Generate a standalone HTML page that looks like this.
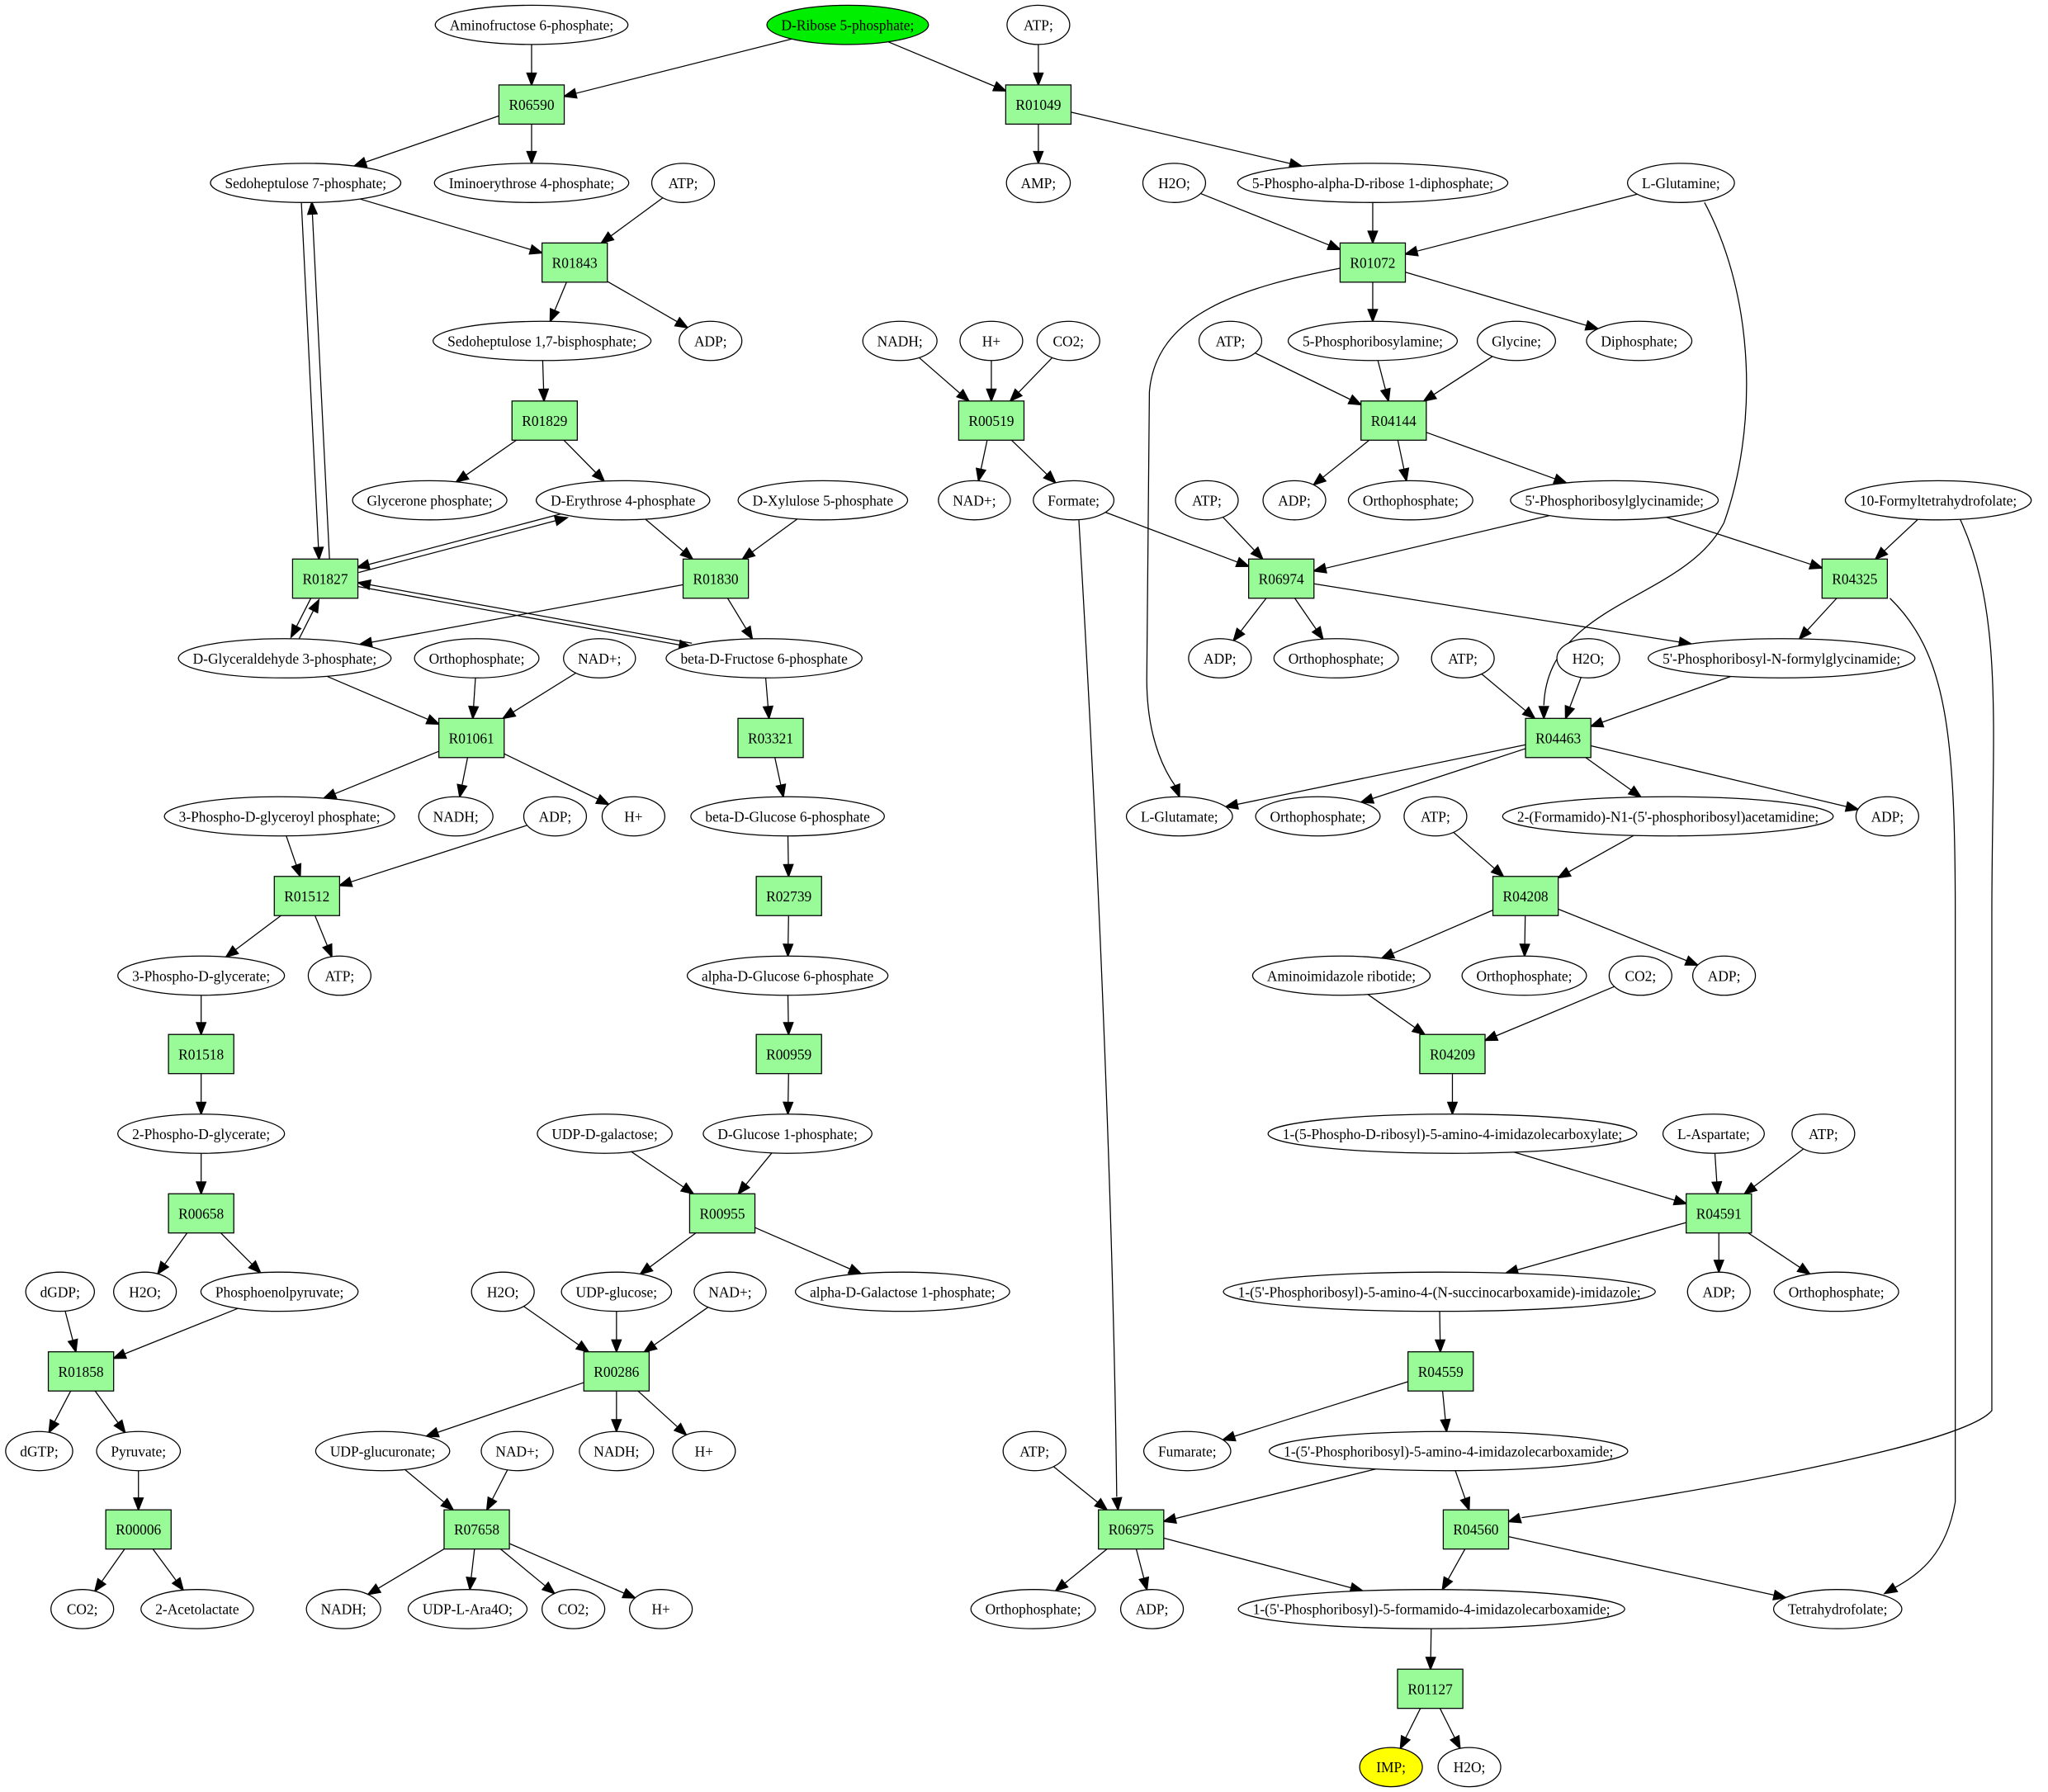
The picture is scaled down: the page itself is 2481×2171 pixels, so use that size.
<!DOCTYPE html>
<html><head><meta charset="utf-8"><style>
html,body{margin:0;padding:0;background:#fff;}
svg{display:block;}
text{font-family:"Liberation Serif",serif;font-size:11px;}
</style></head><body>
<svg id="s" xmlns="http://www.w3.org/2000/svg" width="2481" height="2171" viewBox="0 0 1568 1372"></svg>
<script>
var N={};
function n(id,label,x,y,t,fill){N[id]={label:label,x:x,y:y,t:t||'e',fill:fill||'#fff'};}
n('amf','Aminofructose 6-phosphate;',407,19);n('r5p','D-Ribose 5-phosphate;',649,19,'e','#00ee00');n('atp1','ATP;',795,19);
n('R06590','R06590',407,80,'b');n('R01049','R01049',795,80,'b');
n('s7p','Sedoheptulose 7-phosphate;',234,140);n('ime','Iminoerythrose 4-phosphate;',407,140);n('atp2','ATP;',523,140);n('amp','AMP;',795,140);n('h2o1','H2O;',899,140);n('prpp','5-Phospho-alpha-D-ribose 1-diphosphate;',1051,140);n('gln','L-Glutamine;',1287,140);
n('R01843','R01843',440,201,'b');n('R01072','R01072',1051,201,'b');
n('s17','Sedoheptulose 1,7-bisphosphate;',415,261);n('adp1','ADP;',544,261);n('nadh1','NADH;',689,261);n('hp1','H+',759,261);n('co21','CO2;',818,261);n('atp3','ATP;',942,261);n('pra','5-Phosphoribosylamine;',1051,261);n('gly','Glycine;',1161,261);n('ppi','Diphosphate;',1255,261);
n('R01829','R01829',417,322,'b');n('R00519','R00519',759,322,'b');n('R04144','R04144',1067,322,'b');
n('dhap','Glycerone phosphate;',329,383);n('e4p','D-Erythrose 4-phosphate',477,383);n('xu5p','D-Xylulose 5-phosphate',630,383);n('nadp1','NAD+;',746,383);n('form','Formate;',822,383);n('atp4','ATP;',924,383);n('adp2','ADP;',991,383);n('pi1','Orthophosphate;',1080,383);n('gar','5\'-Phosphoribosylglycinamide;',1236,383);n('fthf','10-Formyltetrahydrofolate;',1484,383);
n('R01827','R01827',249,443,'b');n('R01830','R01830',548,443,'b');n('R06974','R06974',981,443,'b');n('R04325','R04325',1420,443,'b');
n('g3p','D-Glyceraldehyde 3-phosphate;',218,504);n('pi2','Orthophosphate;',365,504);n('nadp2','NAD+;',459,504);n('f6p','beta-D-Fructose 6-phosphate',585,504);n('adp3','ADP;',934,504);n('pi3','Orthophosphate;',1023,504);n('atp5','ATP;',1120,504);n('h2o2','H2O;',1216,504);n('fgar','5\'-Phosphoribosyl-N-formylglycinamide;',1364,504);
n('R01061','R01061',361,565,'b');n('R03321','R03321',590,565,'b');n('R04463','R04463',1193,565,'b');
n('bpg','3-Phospho-D-glyceroyl phosphate;',214,625);n('nadh2','NADH;',349,625);n('adp4','ADP;',425,625);n('hp2','H+',485,625);n('bg6p','beta-D-Glucose 6-phosphate',603,625);n('glu','L-Glutamate;',903,625);n('pi4','Orthophosphate;',1009,625);n('atp6','ATP;',1099,625);n('fgam','2-(Formamido)-N1-(5\'-phosphoribosyl)acetamidine;',1277,625);n('adp5','ADP;',1445,625);
n('R01512','R01512',235,686,'b');n('R02739','R02739',604,686,'b');n('R04208','R04208',1168,686,'b');
n('3pg','3-Phospho-D-glycerate;',154,747);n('atp7','ATP;',260,747);n('ag6p','alpha-D-Glucose 6-phosphate',603,747);n('air','Aminoimidazole ribotide;',1027,747);n('pi5','Orthophosphate;',1167,747);n('co22','CO2;',1256,747);n('adp6','ADP;',1320,747);
n('R01518','R01518',154,807,'b');n('R00959','R00959',604,807,'b');n('R04209','R04209',1112,807,'b');
n('2pg','2-Phospho-D-glycerate;',154,868);n('udpgal','UDP-D-galactose;',463,868);n('g1p','D-Glucose 1-phosphate;',603,868);n('cair','1-(5-Phospho-D-ribosyl)-5-amino-4-imidazolecarboxylate;',1112,868);n('asp','L-Aspartate;',1312,868);n('atp8','ATP;',1396,868);
n('R00658','R00658',154,929,'b');n('R00955','R00955',553,929,'b');n('R04591','R04591',1316,929,'b');
n('dgdp','dGDP;',46,989);n('h2o3','H2O;',111,989);n('pep','Phosphoenolpyruvate;',214,989);n('h2o4','H2O;',385,989);n('udpglc','UDP-glucose;',472,989);n('nadp3','NAD+;',559,989);n('gal1p','alpha-D-Galactose 1-phosphate;',691,989);n('saicar','1-(5\'-Phosphoribosyl)-5-amino-4-(N-succinocarboxamide)-imidazole;',1102,989);n('adp7','ADP;',1316,989);n('pi6','Orthophosphate;',1406,989);
n('R01858','R01858',62,1050,'b');n('R00286','R00286',472,1050,'b');n('R04559','R04559',1103,1050,'b');
n('dgtp','dGTP;',30,1111);n('pyr','Pyruvate;',106,1111);n('udpgla','UDP-glucuronate;',293,1111);n('nadp4','NAD+;',396,1111);n('nadh3','NADH;',472,1111);n('hp3','H+',539,1111);n('atp9','ATP;',792,1111);n('fum','Fumarate;',909,1111);n('aicar','1-(5\'-Phosphoribosyl)-5-amino-4-imidazolecarboxamide;',1109,1111);
n('R00006','R00006',106,1171,'b');n('R07658','R07658',365,1171,'b');n('R06975','R06975',866,1171,'b');n('R04560','R04560',1130,1171,'b');
n('co23','CO2;',63,1232);n('alac','2-Acetolactate',151,1232);n('nadh4','NADH;',263,1232);n('ara','UDP-L-Ara4O;',358,1232);n('co24','CO2;',439,1232);n('hp4','H+',506,1232);n('pi7','Orthophosphate;',791,1232);n('adp8','ADP;',882,1232);n('faicar','1-(5\'-Phosphoribosyl)-5-formamido-4-imidazolecarboxamide;',1096,1232);n('thf','Tetrahydrofolate;',1407,1232);
n('R01127','R01127',1095,1293,'b');
n('imp','IMP;',1065,1353,'e','#ffff00');n('h2o5','H2O;',1125,1353);

var E=[['amf','R06590'],['r5p','R06590'],['r5p','R01049'],['atp1','R01049'],['R06590','s7p'],['R06590','ime'],['R01049','amp'],['R01049','prpp'],
['s7p','R01843'],['atp2','R01843'],['R01843','s17'],['R01843','adp1'],['s17','R01829'],['R01829','dhap'],['R01829','e4p'],
['s7p','R01827',4],['R01827','s7p',4],['e4p','R01827',2],['R01827','e4p',2],['R01827','g3p',3],['g3p','R01827',3],['f6p','R01827',1.5],['R01827','f6p',1.5],
['e4p','R01830'],['xu5p','R01830'],['R01830','g3p'],['R01830','f6p'],
['g3p','R01061'],['pi2','R01061'],['nadp2','R01061'],['R01061','bpg'],['R01061','nadh2'],['R01061','hp2'],
['bpg','R01512'],['adp4','R01512'],['R01512','3pg'],['R01512','atp7'],['3pg','R01518'],['R01518','2pg'],['2pg','R00658'],['R00658','h2o3'],['R00658','pep'],
['dgdp','R01858'],['pep','R01858'],['R01858','dgtp'],['R01858','pyr'],['pyr','R00006'],['R00006','co23'],['R00006','alac'],
['f6p','R03321'],['R03321','bg6p'],['bg6p','R02739'],['R02739','ag6p'],['ag6p','R00959'],['R00959','g1p'],['g1p','R00955'],['udpgal','R00955'],['R00955','udpglc'],['R00955','gal1p'],
['h2o4','R00286'],['udpglc','R00286'],['nadp3','R00286'],['R00286','udpgla'],['R00286','nadh3'],['R00286','hp3'],['udpgla','R07658'],['nadp4','R07658'],
['R07658','nadh4'],['R07658','ara'],['R07658','co24'],['R07658','hp4'],
['nadh1','R00519'],['hp1','R00519'],['co21','R00519'],['R00519','nadp1'],['R00519','form'],['form','R06974'],
['prpp','R01072'],['h2o1','R01072'],['gln','R01072'],['R01072','pra'],['R01072','ppi'],
['atp3','R04144'],['pra','R04144'],['gly','R04144'],['R04144','adp2'],['R04144','pi1'],['R04144','gar'],
['gar','R06974'],['gar','R04325'],['atp4','R06974'],['R06974','adp3'],['R06974','pi3'],['R06974','fgar'],['fthf','R04325'],['R04325','fgar'],
['atp5','R04463'],['h2o2','R04463'],['fgar','R04463'],['R04463','glu'],['R04463','pi4'],['R04463','fgam'],['R04463','adp5'],
['atp6','R04208'],['fgam','R04208'],['R04208','air'],['R04208','pi5'],['R04208','adp6'],['air','R04209'],['co22','R04209'],['R04209','cair'],
['cair','R04591'],['asp','R04591'],['atp8','R04591'],['R04591','saicar'],['R04591','adp7'],['R04591','pi6'],['saicar','R04559'],['R04559','fum'],['R04559','aicar'],
['aicar','R06975'],['aicar','R04560'],['atp9','R06975'],['R06975','pi7'],['R06975','adp8'],['R06975','faicar'],['R04560','faicar'],['R04560','thf'],
['faicar','R01127'],['R01127','imp'],['R01127','h2o5']];

var svg=document.getElementById('s'),NS='http://www.w3.org/2000/svg';
var cv=document.createElement('canvas').getContext('2d');cv.font='11px "Liberation Serif", serif';
function el(t,a){var e=document.createElementNS(NS,t);for(var k in a)e.setAttribute(k,a[k]);svg.appendChild(e);return e;}
for(var id in N){var d=N[id];if(d.t=='e'){d.rx=Math.max(24,cv.measureText(d.label).width/2+11);d.ry=15;}else{d.hw=25;d.hh=15;}}
function clip(d,ux,uy){
 if(d.t=='e'){return 1/Math.sqrt((ux*ux)/(d.rx*d.rx)+(uy*uy)/(d.ry*d.ry));}
 var tx=Math.abs(ux)>1e-9?d.hw/Math.abs(ux):1e9,ty=Math.abs(uy)>1e-9?d.hh/Math.abs(uy):1e9;return Math.min(tx,ty);}
function arrow(x,y,ux,uy){var L=9,W=3.5,bx=x-ux*L,by=y-uy*L;
 el('polygon',{points:x+','+y+' '+(bx-uy*W)+','+(by+ux*W)+' '+(bx+uy*W)+','+(by-ux*W),fill:'#000',stroke:'#000','stroke-width':1});}
E.forEach(function(e){var a=N[e[0]],b=N[e[1]],dx=b.x-a.x,dy=b.y-a.y,l=Math.hypot(dx,dy),ux=dx/l,uy=dy/l;
 var off=e[2]||0,px=-uy*off,py=ux*off;
 var sa=clip(a,ux,uy),sb=clip(b,-ux,-uy);
 var x1=a.x+ux*sa+px,y1=a.y+uy*sa+py,x2=b.x-ux*sb+px,y2=b.y-uy*sb+py;
 el('line',{x1:x1,y1:y1,x2:x2-ux*9,y2:y2-uy*9,stroke:'#000','stroke-width':0.8});
 arrow(x2,y2,ux,uy);});
function curve(d,ex,ey,cx,cy){el('path',{d:d,fill:'none',stroke:'#000','stroke-width':0.8});var dx=ex-cx,dy=ey-cy,l=Math.hypot(dx,dy);arrow(ex,ey,dx/l,dy/l);}
curve('M1305,155 C1345,230 1345,330 1320,400 C1290,460 1185,460 1182,540',1182,550,1182,540);
curve('M1028,205 C950,220 885,240 880,300 L878,520 C878,570 895,595 900,602',903,610,900,602);
curve('M826,398 C838,600 852,900 855,1146',856,1156,855,1146);
curve('M1500,396 C1535,470 1525,560 1525,700 L1525,1080 C1500,1110 1250,1150 1165,1162',1155,1165,1165,1162);
curve('M1447,458 C1490,500 1497,560 1497,700 L1497,1150 C1490,1190 1470,1205 1450,1216',1443,1220,1450,1216);
for(var id in N){var d=N[id];
 if(d.t=='e')el('ellipse',{cx:d.x,cy:d.y,rx:d.rx,ry:d.ry,fill:d.fill,stroke:'#000','stroke-width':0.8});
 else el('rect',{x:d.x-25,y:d.y-15,width:50,height:30,fill:'#98fb98',stroke:'#000','stroke-width':0.8});
 var t=el('text',{x:d.x,y:d.y+4,'text-anchor':'middle'});t.textContent=d.label;}
</script>
</body></html>
